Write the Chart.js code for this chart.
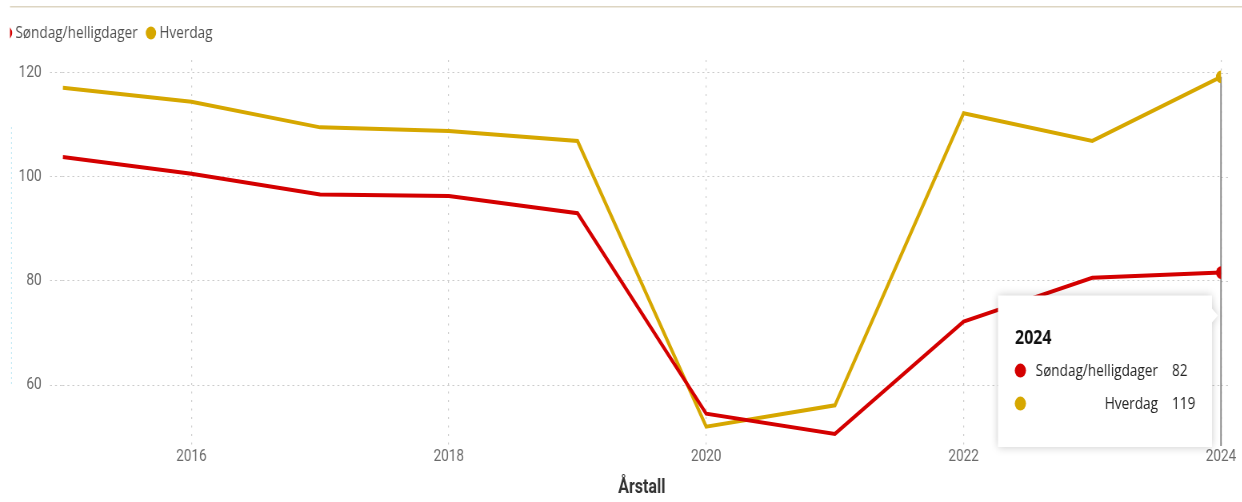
<!DOCTYPE html>
<html><head><meta charset="utf-8">
<script src="https://cdn.jsdelivr.net/npm/chart.js@4.4.1/dist/chart.umd.min.js"></script>
<style>html,body{margin:0;padding:0;background:#fff;overflow:hidden;width:1242px;height:502px}</style>
</head><body>
<canvas id="c" width="1553" height="502" style="position:absolute;left:0;top:0;width:1553px;height:502px;transform:scaleX(0.8);transform-origin:0 0"></canvas>
<script>
const years = [2015, 2016, 2017, 2018, 2019, 2020, 2021, 2022, 2023, 2024];
const sondag = [103.8, 100.6, 96.6, 96.3, 93.0, 54.5, 50.6, 72.2, 80.6, 81.6];
const hverdag = [117.1, 114.4, 109.5, 108.8, 106.9, 52.0, 56.1, 112.2, 106.9, 119.2];
const seriesNames = ['Søndag/helligdager', 'Hverdag'];
const seriesColors = ['#D40000', '#D6A700'];
const yTicks = [60, 80, 100, 120];
const xTicks = [2016, 2018, 2020, 2022, 2024];
const axisTitle = 'Årstall';
const hoverYear = 2024;

const UI = '"Open Sans", "Noto Sans", sans-serif';
const AX = 'Roboto, "Liberation Sans", sans-serif';

function mk(values, i) {
  return {
    label: seriesNames[i],
    data: years.map((x, k) => ({x: x, y: values[k]})),
    borderColor: seriesColors[i],
    backgroundColor: seriesColors[i],
    borderWidth: 4,
    tension: 0,
    pointRadius: ctx => (ctx.raw && ctx.raw.x === hoverYear) ? 6.3 : 0,
    pointBorderWidth: 0,
    pointBackgroundColor: seriesColors[i]
  };
}

const deco = {
  id: 'deco',
  beforeDraw(chart) {
    const ctx = chart.ctx;
    ctx.save();
    // top border line of the visual
    ctx.fillStyle = '#ddd5c2';
    ctx.fillRect(12.5, 6, chart.width, 1.5);
    // faint cyan dotted line at left edge
    ctx.strokeStyle = '#c3e9f5';
    ctx.lineWidth = 1.2;
    ctx.setLineDash([2, 3]);
    ctx.beginPath(); ctx.moveTo(14.4, 127); ctx.lineTo(14.4, 384); ctx.stroke();
    ctx.setLineDash([]);
    // legend, clipped at the visual's left edge
    ctx.beginPath(); ctx.rect(12.5, 10, chart.width, 45); ctx.clip();
    ctx.font = '17px ' + UI;
    ctx.textBaseline = 'middle';
    ctx.textAlign = 'left';
    let cx = 8.75;
    chart.data.datasets.forEach(ds => {
      ctx.fillStyle = ds.borderColor;
      ctx.beginPath(); ctx.arc(cx, 33, 6.5, 0, Math.PI * 2); ctx.fill();
      ctx.fillStyle = '#505050';
      const tx = cx + 6.5 + 4;
      ctx.fillText(ds.label, tx, 33);
      cx = tx + ctx.measureText(ds.label).width + 10 + 6.5;
    });
    ctx.restore();
  },
  beforeDatasetsDraw(chart) {
    const ctx = chart.ctx;
    const xs = chart.scales.x, ys = chart.scales.y;
    const ca = chart.chartArea;
    ctx.save();
    // gridlines continue a little past the plot on the right
    ctx.strokeStyle = '#cccccc';
    ctx.lineWidth = 1;
    ctx.setLineDash([2.5, 3.75]);
    yTicks.forEach(v => {
      const y = Math.round(ys.getPixelForValue(v)) + 0.5;
      ctx.beginPath(); ctx.moveTo(ca.right, y); ctx.lineTo(ca.right + 12, y); ctx.stroke();
    });
    ctx.setLineDash([]);
    const idx = years.indexOf(hoverYear);
    const top = Math.max(...chart.data.datasets.map(d => d.data[idx].y));
    const px = xs.getPixelForValue(hoverYear);
    ctx.strokeStyle = '#808080';
    ctx.lineWidth = 1.8;
    ctx.beginPath(); ctx.moveTo(px, ys.getPixelForValue(top)); ctx.lineTo(px, ca.bottom - 1); ctx.stroke();
    ctx.restore();
  },
  afterDraw(chart) {
    const ctx = chart.ctx;
    const xs = chart.scales.x, ys = chart.scales.y;
    const idx = years.indexOf(hoverYear);
    const px = xs.getPixelForValue(hoverYear);
    const lowY = ys.getPixelForValue(Math.min(...chart.data.datasets.map(d => d.data[idx].y)));
    const R = px - 11.25, L = R - 267.5, T = lowY + 23, B = chart.chartArea.bottom;
    ctx.save();
    ctx.shadowColor = 'rgba(0,0,0,0.22)';
    ctx.shadowBlur = 10;
    ctx.fillStyle = '#fff';
    ctx.beginPath();
    ctx.moveTo(L, T); ctx.lineTo(R, T); ctx.lineTo(R, T + 13); ctx.lineTo(R + 7.5, T + 20);
    ctx.lineTo(R, T + 27); ctx.lineTo(R, B); ctx.lineTo(L, B); ctx.closePath();
    ctx.fill();
    ctx.shadowColor = 'transparent'; ctx.shadowBlur = 0;
    ctx.textBaseline = 'middle';
    ctx.fillStyle = '#111';
    ctx.font = 'bold 20px ' + UI;
    ctx.textAlign = 'left';
    ctx.fillText(String(hoverYear), L + 21.25, T + 43);
    ctx.font = '17px ' + UI;
    chart.data.datasets.forEach((ds, i) => {
      const y = T + 76 + i * 33;
      ctx.fillStyle = ds.borderColor;
      ctx.beginPath(); ctx.arc(L + 28, y - 1, 7, 0, Math.PI * 2); ctx.fill();
      ctx.fillStyle = '#252525';
      ctx.textAlign = 'right';
      ctx.fillText(ds.label, L + 200, y);
      ctx.textAlign = 'left';
      ctx.fillText(String(Math.round(ds.data[idx].y)), L + 217.5, y);
    });
    ctx.restore();
  }
};

new Chart(document.getElementById('c'), {
  type: 'line',
  data: { datasets: [mk(sondag, 0), mk(hverdag, 1)] },
  options: {
    responsive: false,
    animation: false,
    events: [],
    layout: { padding: { top: 60, right: 26.75, left: 0, bottom: 0 } },
    plugins: { legend: { display: false }, tooltip: { enabled: false } },
    scales: {
      x: {
        type: 'linear', min: 2015, max: 2024,
        afterBuildTicks: s => { s.ticks = xTicks.map(v => ({value: v})); },
        afterFit: s => { s.height = 55; },
        grid: { color: '#cccccc', lineWidth: 1.2, drawTicks: false },
        border: { display: false, dash: [2, 6.5] },
        ticks: { color: '#6a6a6a', font: { family: AX, size: 17 }, padding: 0, maxRotation: 0,
                 callback: v => String(v) },
        title: { display: true, text: axisTitle, color: '#333',
                 font: { family: AX, size: 20, weight: 'bold' }, padding: { top: 0, bottom: 2 } }
      },
      y: {
        type: 'linear', min: 48.1, max: 122.44,
        afterBuildTicks: s => { s.ticks = yTicks.map(v => ({value: v})); },
        afterFit: s => { s.width = 78.4; },
        grid: { color: '#cccccc', lineWidth: 1, drawTicks: true, tickLength: 15.9,
                tickColor: '#cccccc', tickBorderDash: [2.5, 3.75] },
        border: { display: false, dash: [2.5, 3.75] },
        ticks: { color: '#6a6a6a', font: { family: AX, size: 17 }, padding: 10.5 }
      }
    }
  },
  plugins: [deco]
});
</script>
</body></html>
